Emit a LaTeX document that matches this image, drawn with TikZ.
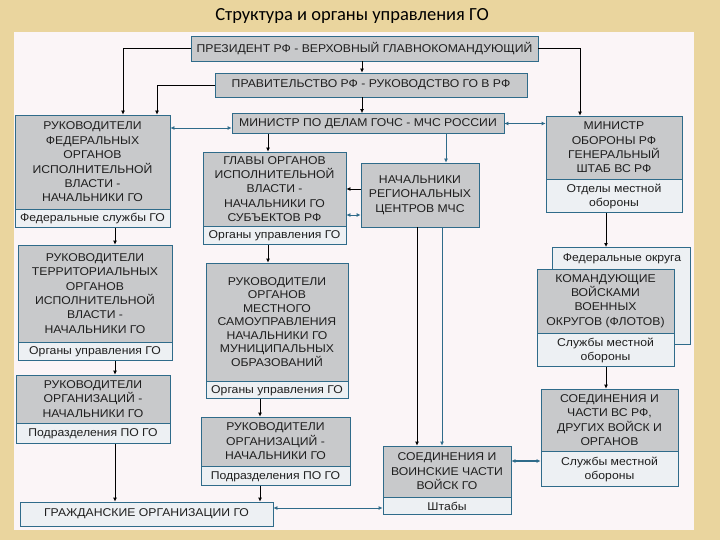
\documentclass[tikz,border=0pt]{standalone}
\usepackage{fontspec}
\setmainfont{Liberation Sans}[FakeStretch=1.08]
\newfontfamily\titlefont{Carlito}
\usetikzlibrary{arrows.meta}
\definecolor{tan}{HTML}{EAD59E}
\definecolor{panel}{HTML}{FBF5F7}
\definecolor{boxgray}{HTML}{C8C9CB}
\definecolor{subfill}{HTML}{EDF0F3}
\definecolor{edge}{HTML}{2F6B8A}
\definecolor{ink}{HTML}{1E1E1E}

\begin{document}
\begin{tikzpicture}[x=1pt,y=-1pt,
  hd/.style={draw=edge,fill=boxgray,text=ink,align=center,inner sep=0pt,line width=.8pt,
    font=\fontsize{11.3}{14.4}\selectfont},
  sb/.style={draw=edge,fill=subfill,text=ink,align=center,inner sep=0pt,line width=.8pt,
    font=\fontsize{11.3}{14}\selectfont},
  sz/.style 2 args={minimum width=#1,minimum height=#2},
  arr/.style={line width=.8pt,-{Latex[length=4pt,width=4pt]}},
  dbl/.style={line width=.8pt,{Latex[length=4pt,width=4pt]}-{Latex[length=4pt,width=4pt]}}]
\fill[tan] (0,0) rectangle (720,540);
\fill[panel] (14,32) rectangle (694,530);
\node[font=\titlefont\fontsize{18.5}{20}\selectfont] (title) at (352,16) {Структура и органы управления ГО};

% columns and rows for the connectors
\coordinate (cP) at (123,0);
\coordinate (cG) at (157,0);
\coordinate (cL) at (115,0);
\coordinate (cM) at (268,0);
\coordinate (cN) at (260,0);
\coordinate (cC) at (362,0);
\coordinate (cR) at (446,0);
\coordinate (cR1) at (417,0);
\coordinate (cR2) at (442,0);
\coordinate (cD) at (580,0);
\coordinate (cE) at (606,0);
\coordinate (r1) at (0,128);
\coordinate (r2) at (0,189);
\coordinate (r3) at (0,215);
\coordinate (r4) at (0,508);
\coordinate (r5) at (0,461);

\node[hd,sz={347pt}{25pt}] (pres) at (364.5,48.5) {ПРЕЗИДЕНТ РФ - ВЕРХОВНЫЙ ГЛАВНОКОМАНДУЮЩИЙ};
\node[hd,sz={312pt}{24pt}] (gov) at (371,85) {ПРАВИТЕЛЬСТВО РФ - РУКОВОДСТВО ГО В РФ};
\node[hd,sz={272pt}{20pt}] (mchs) at (368,123.5) {МИНИСТР ПО ДЕЛАМ ГОЧС - МЧС РОССИИ};

\node[hd,sz={155pt}{94pt}] (fed) at (92.5,162) {РУКОВОДИТЕЛИ\\ФЕДЕРАЛЬНЫХ\\ОРГАНОВ\\ИСПОЛНИТЕЛЬНОЙ\\ВЛАСТИ -\\НАЧАЛЬНИКИ ГО};
\node[sb,sz={155pt}{18pt},anchor=north] (fedsub) at (fed.south) {Федеральные службы ГО};

\node[hd,sz={136pt}{63pt}] (mod) at (614,147.5) {МИНИСТР\\ОБОРОНЫ РФ\\ГЕНЕРАЛЬНЫЙ\\ШТАБ ВС РФ};
\node[sb,sz={136pt}{33pt},anchor=north] (modsub) at (mod.south) {Отделы местной\\обороны};

\node[hd,sz={143pt}{74pt}] (glavy) at (274.5,189) {ГЛАВЫ ОРГАНОВ\\ИСПОЛНИТЕЛЬНОЙ\\ВЛАСТИ -\\НАЧАЛЬНИКИ ГО\\СУБЪЕКТОВ РФ};
\node[sb,sz={143pt}{18pt},anchor=north] (glavysub) at (glavy.south) {Органы управления ГО};

\node[hd,sz={118pt}{64pt}] (reg) at (420,195) {НАЧАЛЬНИКИ\\РЕГИОНАЛЬНЫХ\\ЦЕНТРОВ МЧС};

\node[hd,sz={154pt}{97pt}] (terr) at (95,293.5) {РУКОВОДИТЕЛИ\\ТЕРРИТОРИАЛЬНЫХ\\ОРГАНОВ\\ИСПОЛНИТЕЛЬНОЙ\\ВЛАСТИ -\\НАЧАЛЬНИКИ ГО};
\node[sb,sz={154pt}{18pt},anchor=north] (terrsub) at (terr.south) {Органы управления ГО};

\node[hd,sz={142pt}{118pt},font=\fontsize{11.3}{13.5}\selectfont] (local) at (277,322) {РУКОВОДИТЕЛИ\\ОРГАНОВ\\МЕСТНОГО\\САМОУПРАВЛЕНИЯ\\НАЧАЛЬНИКИ ГО\\МУНИЦИПАЛЬНЫХ\\ОБРАЗОВАНИЙ};
\node[sb,sz={142pt}{17pt},anchor=north] (localsub) at (local.south) {Органы управления ГО};

\node[sb,sz={138pt}{97pt},anchor=north west] (fd) at (552,247) {};
\node[text=ink,font=\fontsize{11.3}{12}\selectfont] (fdname) at (622,259) {Федеральные округа};
\node[hd,sz={137pt}{64pt}] (kom) at (605.5,301) {КОМАНДУЮЩИЕ\\ВОЙСКАМИ\\ВОЕННЫХ\\ОКРУГОВ (ФЛОТОВ)};
\node[sb,sz={137pt}{33pt},anchor=north] (komsub) at (kom.south) {Службы местной\\обороны};

\node[hd,sz={137pt}{62pt}] (vs) at (609.5,420) {СОЕДИНЕНИЯ И\\ЧАСТИ ВС РФ,\\ДРУГИХ ВОЙСК И\\ОРГАНОВ};
\node[sb,sz={137pt}{35pt},anchor=north] (vssub) at (vs.south) {Службы местной\\обороны};

\node[hd,sz={154pt}{48pt}] (orgL) at (93,399) {РУКОВОДИТЕЛИ\\ОРГАНИЗАЦИЙ -\\НАЧАЛЬНИКИ ГО};
\node[sb,sz={154pt}{20pt},anchor=north] (orgLsub) at (orgL.south) {Подразделения ПО ГО};

\node[hd,sz={149pt}{49pt}] (orgM) at (275.5,441.5) {РУКОВОДИТЕЛИ\\ОРГАНИЗАЦИЙ -\\НАЧАЛЬНИКИ ГО};
\node[sb,sz={149pt}{19pt},anchor=north] (orgMsub) at (orgM.south) {Подразделения ПО ГО};

\node[hd,sz={128pt}{51pt}] (goV) at (447,471.5) {СОЕДИНЕНИЯ И\\ВОИНСКИЕ ЧАСТИ\\ВОЙСК ГО};
\node[sb,sz={128pt}{17pt},anchor=north] (goVsub) at (goV.south) {Штабы};

\node[sb,sz={253pt}{24pt}] (civil) at (146.5,514) {ГРАЖДАНСКИЕ ОРГАНИЗАЦИИ ГО};

\draw[arr] (pres.west) -| (cP |- fed.north);
\draw[arr] (gov.west) -| (cG |- fed.north);
\draw[arr] (pres.east) -| (cD |- mod.north);
\draw[arr] (cC |- pres.south) -- (cC |- gov.north);
\draw[arr] (cC |- gov.south) -- (cC |- mchs.north);
\draw[dbl,edge] (mchs.west |- r1) -- (fed.east |- r1);
\draw[dbl,edge] (mchs.east) -- (mchs.east -| mod.west);
\draw[arr] (cM |- mchs.south) -- (cM |- glavy.north);
\draw[arr,edge] (cR |- mchs.south) -- (cR |- reg.north);
\draw[arr] (reg.west |- r2) -- (glavy.east |- r2);
\draw[dbl,edge] (reg.west |- r3) -- (glavy.east |- r3);
\draw[arr] (cR1 |- reg.south) -- (cR1 |- goV.north);
\draw[arr,edge] (cR2 |- reg.south) -- (cR2 |- goV.north);
\draw[arr] (cL |- fedsub.south) -- (cL |- terr.north);
\draw[arr] (cL |- terrsub.south) -- (cL |- orgL.north);
\draw[arr] (cL |- orgLsub.south) -- (cL |- civil.north);
\draw[arr] (cM |- glavysub.south) -- (cM |- local.north);
\draw[arr] (cN |- localsub.south) -- (cN |- orgM.north);
\draw[arr] (cN |- orgMsub.south) -- (cN |- civil.north);
\draw[dbl,edge] (civil.east |- r4) -- (goVsub.west |- r4);
\draw[dbl,edge,line width=1.3pt] (goV.east |- r5) -- (vssub.west |- r5);
\draw[arr] (cE |- modsub.south) -- (cE |- fd.north);
\draw[arr] (cE |- komsub.south) -- (cE |- vs.north);
\end{tikzpicture}
\end{document}
